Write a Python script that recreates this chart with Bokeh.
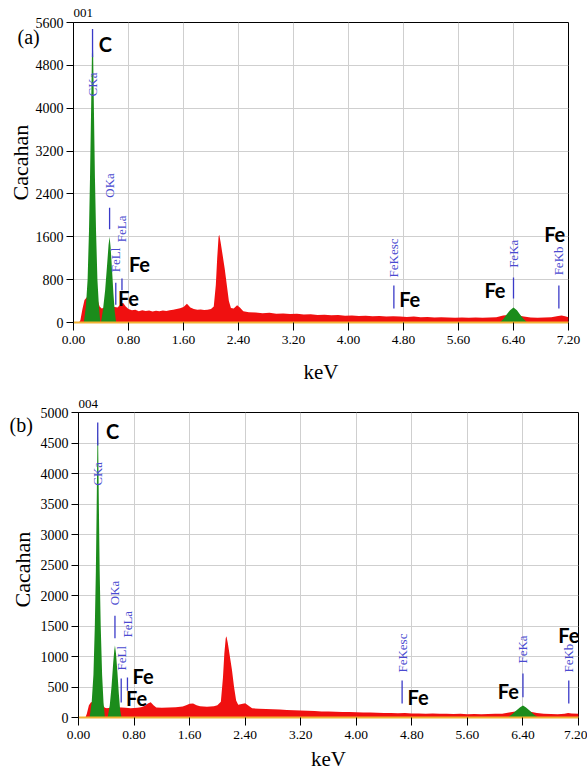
import numpy as np
from bokeh.plotting import figure
from bokeh.layouts import column
from bokeh.models import FixedTicker, Range1d, NumeralTickFormatter, Title
from bokeh.core.properties import value
from bokeh.embed import file_html
from bokeh.resources import INLINE

# ---------------- data ----------------
X_TICKS = [0.0, 0.8, 1.6, 2.4, 3.2, 4.0, 4.8, 5.6, 6.4, 7.2]
Y_TICKS_A = [0, 800, 1600, 2400, 3200, 4000, 4800, 5600]
Y_TICKS_B = [0, 500, 1000, 1500, 2000, 2500, 3000, 3500, 4000, 4500, 5000]

E_RED_A = [0.00, 0.08, 0.10, 0.13, 0.16, 0.20, 0.25, 0.30, 0.35, 0.38, 0.41, 0.45, 0.50, 0.55, 0.60,
           0.64, 0.68, 0.72, 0.76, 0.80, 0.85, 0.90, 0.95, 1.00, 1.05, 1.10, 1.15, 1.20, 1.25, 1.30,
           1.35, 1.40, 1.45, 1.50, 1.55, 1.60, 1.65, 1.70, 1.75, 1.80, 1.85, 1.90, 1.95, 2.00, 2.04,
           2.07, 2.09, 2.11, 2.12, 2.14, 2.17, 2.20, 2.23, 2.26, 2.29, 2.33, 2.38, 2.42, 2.47, 2.55,
           2.65, 2.75, 2.85, 2.95, 3.05, 3.15, 3.25, 3.35, 3.45, 3.55, 3.65, 3.75, 3.85, 3.95, 4.05,
           4.15, 4.25, 4.35, 4.45, 4.55, 4.65, 4.75, 4.85, 4.95, 5.05, 5.15, 5.25, 5.35, 5.45, 5.55,
           5.65, 5.75, 5.85, 5.95, 6.05, 6.15, 6.25, 6.40, 6.55, 6.65, 6.75, 6.85, 6.95, 7.05, 7.10,
           7.15, 7.20]
N_RED_A = [0, 0, 40, 250, 420, 480, 500, 480, 420, 300, 260, 280, 300, 300, 290,
           280, 330, 370, 300, 250, 230, 240, 210, 230, 215, 225, 205, 220, 210, 225,
           215, 230, 240, 250, 265, 290, 350, 280, 250, 240, 245, 235, 240, 250, 300,
           700, 1200, 1600, 1640, 1500, 1250, 1000, 700, 400, 270, 260, 320, 280, 210, 190,
           185, 175, 180, 165, 170, 160, 165, 150, 155, 140, 145, 135, 140, 125, 130,
           120, 125, 115, 120, 110, 115, 110, 105, 110, 100, 105, 95, 100, 95, 90,
           95, 90, 95, 90, 95, 100, 130, 150, 110, 95, 90, 95, 100, 120, 130,
           115, 100]
E_C_A = [0.15, 0.18, 0.205, 0.225, 0.24, 0.255, 0.268, 0.277, 0.286, 0.298, 0.312, 0.328, 0.348, 0.37, 0.39]
N_C_A = [0, 300, 800, 1700, 2700, 3900, 5000, 5500, 5000, 3900, 2700, 1700, 800, 300, 0]
E_O_A = [0.40, 0.43, 0.46, 0.49, 0.51, 0.525, 0.54, 0.56, 0.58, 0.60, 0.62]
N_O_A = [0, 250, 600, 1100, 1450, 1600, 1400, 1000, 550, 200, 0]
E_FE_A = [6.20, 6.25, 6.30, 6.35, 6.40, 6.45, 6.50, 6.55, 6.60]
N_FE_A = [0, 60, 150, 230, 280, 230, 140, 60, 0]

E_RED_B = [0.00, 0.10, 0.12, 0.15, 0.18, 0.25, 0.32, 0.38, 0.41, 0.45, 0.50, 0.55, 0.62, 0.68, 0.75,
           0.80, 0.85, 0.90, 0.95, 1.00, 1.04, 1.08, 1.12, 1.20, 1.30, 1.40, 1.50, 1.55, 1.60, 1.65,
           1.70, 1.75, 1.80, 1.85, 1.90, 1.95, 2.00, 2.05, 2.08, 2.10, 2.12, 2.13, 2.15, 2.18, 2.21,
           2.24, 2.27, 2.30, 2.35, 2.40, 2.44, 2.50, 2.60, 2.70, 2.80, 2.90, 3.00, 3.10, 3.20, 3.30,
           3.40, 3.50, 3.60, 3.70, 3.80, 3.90, 4.00, 4.10, 4.20, 4.30, 4.40, 4.50, 4.60, 4.70, 4.80,
           4.90, 5.00, 5.10, 5.20, 5.30, 5.40, 5.50, 5.60, 5.70, 5.80, 5.90, 6.00, 6.10, 6.20, 6.40,
           6.60, 6.70, 6.80, 6.90, 7.00, 7.05, 7.10, 7.20]
N_RED_B = [0, 0, 60, 200, 250, 260, 240, 160, 150, 160, 165, 170, 165, 160, 150,
           155, 160, 170, 190, 230, 250, 200, 165, 160, 165, 170, 180, 200, 225, 230,
           200, 185, 180, 175, 180, 185, 200, 260, 650, 1050, 1300, 1330, 1220, 1000, 780,
           500, 280, 210, 220, 235, 200, 150, 145, 140, 135, 130, 125, 120, 115, 110,
           105, 100, 100, 95, 92, 90, 85, 82, 80, 78, 75, 72, 70, 72, 65,
           66, 62, 64, 60, 62, 58, 60, 55, 58, 55, 57, 60, 62, 80, 120,
           75, 60, 58, 55, 62, 75, 65, 60]
E_C_B = [0.16, 0.19, 0.215, 0.235, 0.25, 0.262, 0.272, 0.277, 0.283, 0.293, 0.305, 0.32, 0.34, 0.36, 0.38]
N_C_B = [0, 250, 700, 1500, 2400, 3500, 4500, 4850, 4500, 3500, 2400, 1500, 700, 250, 0]
E_O_B = [0.42, 0.45, 0.475, 0.50, 0.515, 0.525, 0.54, 0.56, 0.58, 0.60, 0.62]
N_O_B = [0, 200, 500, 900, 1100, 1180, 1050, 750, 400, 120, 0]
E_FE_B = [6.18, 6.24, 6.30, 6.36, 6.40, 6.44, 6.50, 6.56, 6.62]
N_FE_B = [0, 50, 110, 170, 195, 170, 110, 45, 0]

MARKER_NAMES = ["CKa", "OKa", "FeLl", "FeLa", "FeKesc", "FeKa", "FeKb"]
MARKER_KEV = [0.277, 0.525, 0.615, 0.705, 4.66, 6.40, 7.06]
ELEM_TEXT = ["C", "Fe", "Fe", "Fe", "Fe", "Fe"]
X_LABEL = "keV"
Y_LABEL = "Cacahan"

# ---------------- layout (positions) ----------------
MK_A_Y0 = [5480, 2140, 740, 820, 690, 840, 690]
MK_A_Y1 = [4950, 1740, 330, 600, 260, 450, 260]
MK_A_TXT = [4220, 2330, 940, 1500, 840, 1020, 880]
EL_A_X = [0.465, 0.96, 0.80, 4.89, 6.13, 7.00]
EL_A_Y = [5190, 1090, 465, 430, 605, 1646]

MK_B_Y0 = [4835, 1670, 640, 655, 606, 720, 606]
MK_B_Y1 = [4460, 1300, 245, 440, 230, 330, 230]
MK_B_TXT = [3800, 1840, 770, 1310, 737, 885, 737]
EL_B_X = [0.49, 0.93, 0.836, 4.89, 6.19, 7.06]
EL_B_Y = [4704, 680, 320, 336, 434, 1352]

RED = "#f01010"
GREEN = "#1b8c1b"
BLUE = "#3a3ac8"
SERIF = "Liberation Serif"


def make_panel(ymax, yticks, fw, fh, left, right, top, bottom, xlab_standoff,
               ylab_off, ylab_standoff,
               e_red, n_red, greens, mk_y0, mk_y1, mk_txt, el_x, el_y,
               code, code_standoff, tag, tag_off, tag_standoff, margin):
    p = figure(frame_width=fw, frame_height=fh, x_range=Range1d(0, 7.2), y_range=Range1d(0, ymax),
               output_backend="svg", toolbar_location=None,
               min_border_left=left, min_border_right=right,
               min_border_top=top, min_border_bottom=bottom,
               background_fill_color="white", border_fill_color="white", margin=margin)
    p.outline_line_color = "black"
    p.outline_line_width = 1
    p.xaxis.ticker = FixedTicker(ticks=X_TICKS)
    p.yaxis.ticker = FixedTicker(ticks=yticks)
    p.xgrid.ticker = FixedTicker(ticks=X_TICKS)
    p.ygrid.ticker = FixedTicker(ticks=yticks)
    p.grid.grid_line_color = "#cfcfcf"
    p.grid.grid_line_width = 1
    p.xaxis.formatter = NumeralTickFormatter(format="0.00")
    for ax in (p.xaxis, p.yaxis):
        ax.major_label_text_font = SERIF
        ax.major_label_text_color = "black"
        ax.axis_label_text_font = SERIF
        ax.axis_label_text_font_style = "normal"
        ax.axis_label_text_color = "black"
        ax.minor_tick_line_color = None
        ax.major_tick_in = 0
        ax.major_tick_line_color = "black"
    p.xaxis.axis_label_text_font_size = "21px"
    p.xaxis.major_label_text_font_size = "13.5px"
    p.yaxis.major_label_text_font_size = "14px"
    p.xaxis.major_tick_out = 8
    p.yaxis.major_tick_out = 7
    p.xaxis.axis_line_color = "#f2b233"
    p.xaxis.axis_line_width = 2
    p.yaxis.axis_line_color = "black"
    p.xaxis.major_label_standoff = 5
    p.yaxis.major_label_standoff = 3
    p.xaxis.axis_label = X_LABEL
    p.xaxis.axis_label_standoff = xlab_standoff

    p.varea(x=e_red, y1=0, y2=n_red, fill_color=RED)
    for ex, nx in greens:
        p.varea(x=ex, y1=0, y2=nx, fill_color=GREEN)

    p.segment(x0=MARKER_KEV, y0=mk_y0, x1=MARKER_KEV, y1=mk_y1, line_color=BLUE, line_width=1.3)
    p.text(x=MARKER_KEV, y=mk_txt, text=MARKER_NAMES, angle=np.pi / 2,
           text_font=value(SERIF), text_font_size="13px", text_color="#4a4ad0",
           text_align="left", text_baseline="middle")
    p.text(x=el_x, y=el_y, text=ELEM_TEXT, text_font=value("Lato"), text_font_style="bold",
           text_font_size="20px", text_color="black", text_align="center", text_baseline="middle")

    # vertical axis title as a side title (keeps the left border compact)
    p.add_layout(Title(text=Y_LABEL, align="left", offset=ylab_off, standoff=ylab_standoff,
                       text_font=SERIF, text_font_size="22px", text_font_style="normal",
                       text_color="black"), "left")
    # spectrum code above the frame, panel tag at the upper left
    p.add_layout(Title(text=code, align="left", offset=0, standoff=code_standoff, vertical_align="middle",
                       text_font=SERIF, text_font_size="13px", text_font_style="normal",
                       text_color="black"), "above")
    p.add_layout(Title(text=tag, align="left", offset=tag_off, standoff=tag_standoff, text_font=SERIF,
                       text_font_size="20px", text_font_style="normal", text_color="black"), "above")
    return p


pa = make_panel(5600, Y_TICKS_A, 495, 300, 73, 19, 22, 66, 13, 122, 0,
                E_RED_A, N_RED_A, [(E_C_A, N_C_A), (E_O_A, N_O_A), (E_FE_A, N_FE_A)],
                MK_A_Y0, MK_A_Y1, MK_A_TXT, EL_A_X, EL_A_Y,
                "001", 10, "(a)", -56, -90, (0, 0, 0, 0))
pb = make_panel(5000, Y_TICKS_B, 500, 305, 73, 9, 24, 55, 5, 110, 5,
                E_RED_B, N_RED_B, [(E_C_B, N_C_B), (E_O_B, N_O_B), (E_FE_B, N_FE_B)],
                MK_B_Y0, MK_B_Y1, MK_B_TXT, EL_B_X, EL_B_Y,
                "004", 7, "(b)", -69, -80, (0, 0, 0, 5))

layout = column(pa, pb, spacing=0)
open("out.html", "w").write(file_html(layout, INLINE))
